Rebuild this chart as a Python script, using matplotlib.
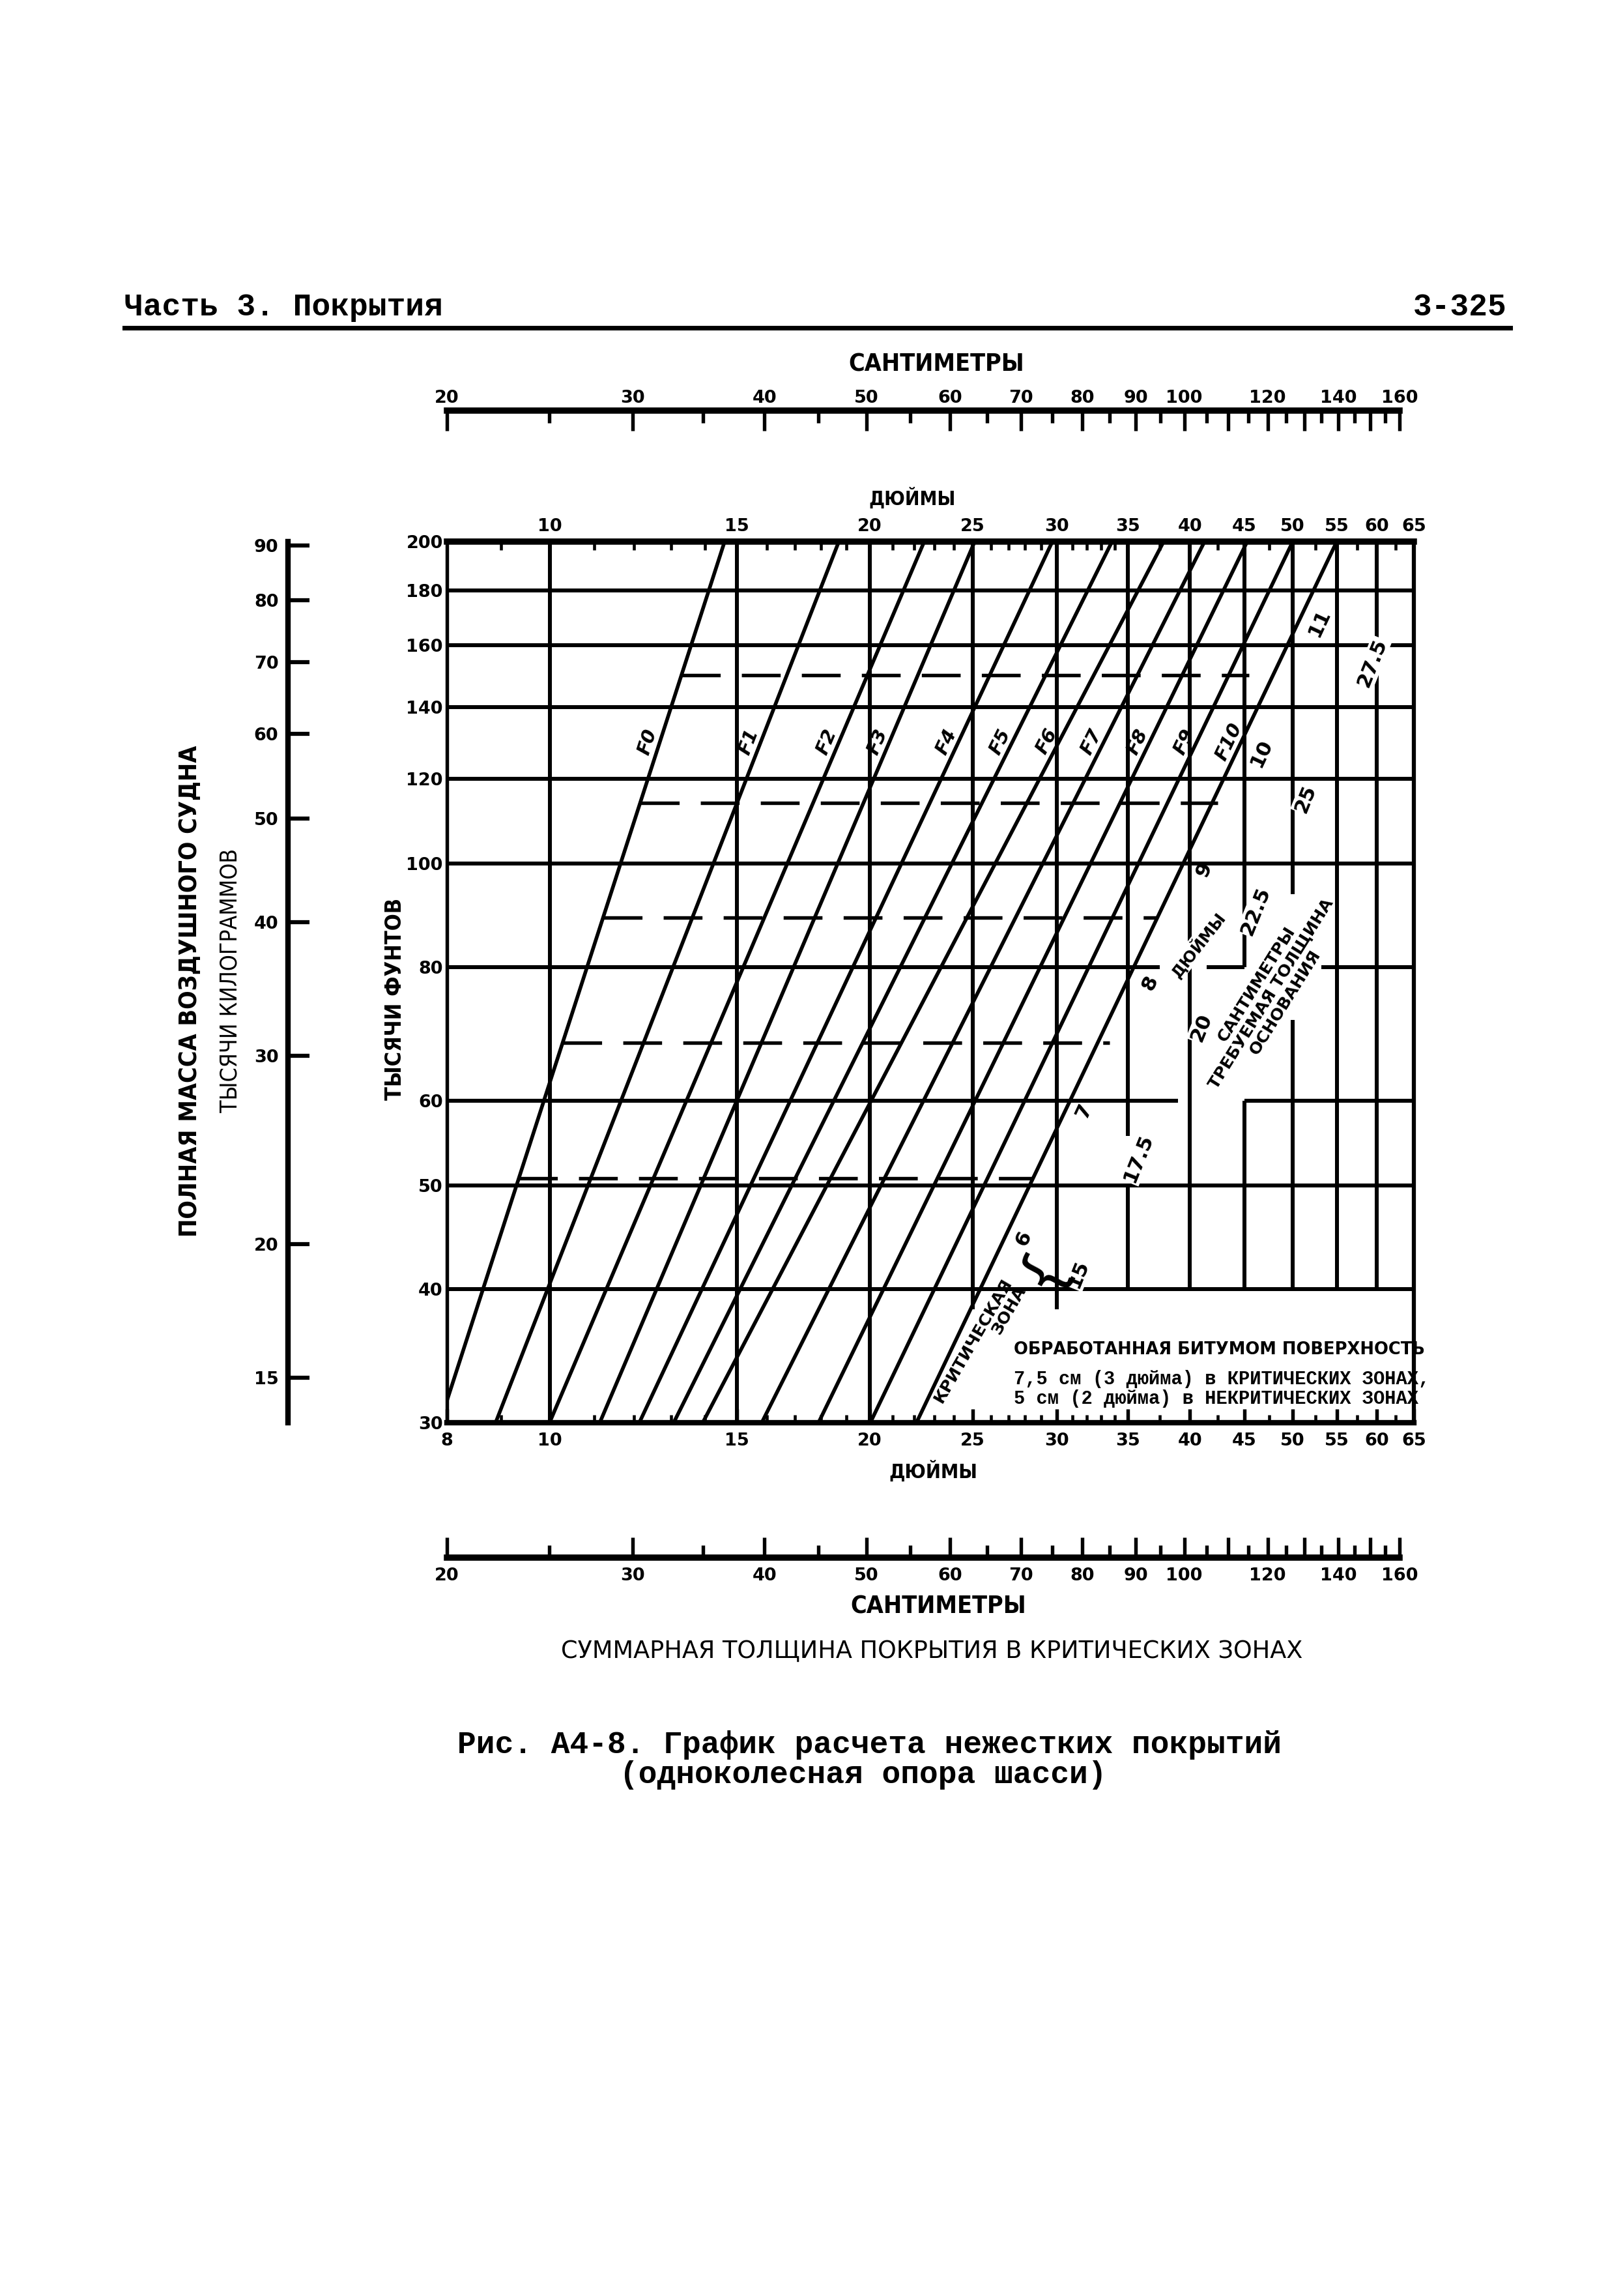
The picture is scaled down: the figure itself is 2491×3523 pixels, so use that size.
import numpy as np
import matplotlib
matplotlib.use("Agg")
import matplotlib.pyplot as plt
from matplotlib.lines import Line2D
from matplotlib.ticker import FixedLocator, NullFormatter, NullLocator

plt.rcParams['font.family'] = ['DejaVu Sans']
plt.rcParams['font.weight'] = 'bold'

W, H, DPI = 2491, 3523, 300

# --- scales -----------------------------------------------------------------
lb_ticks = [30, 40, 50, 60, 80, 100, 120, 140, 160, 180, 200]   # thousand lb
kg_ticks = [15, 20, 30, 40, 50, 60, 70, 80, 90]                  # thousand kg
in_top = [10, 15, 20, 25, 30, 35, 40, 45, 50, 55, 60, 65]
in_bottom = [8, 10, 15, 20, 25, 30, 35, 40, 45, 50, 55, 60, 65]
in_minor = [9, 11, 12, 13, 14, 16, 17, 18, 19, 21, 22, 23, 24, 26, 27, 28, 29,
            31, 32, 33, 34, 37.5, 42.5, 47.5, 52.5, 57.5, 62.5]
cm_major = [20, 30, 40, 50, 60, 70, 80, 90, 100, 110, 120, 130, 140, 150, 160]
cm_major_labels = ['20', '30', '40', '50', '60', '70', '80', '90', '100', '',
                   '120', '', '140', '', '160']
cm_minor = [25, 35, 45, 55, 65, 75, 85, 95, 105, 115, 125, 135, 145, 155]

# --- design lines: total thickness (in) where each crosses 200 and 40 klb ---
f_names = ['F0', 'F1', 'F2', 'F3', 'F4', 'F5', 'F6', 'F7', 'F8', 'F9', 'F10']
thick_at_200 = [14.6, 18.7, 22.5, 25.1, 29.7, 33.8, 37.8, 41.3, 45.3, 50.0, 55.0]
thick_at_40 = [8.65, 9.95, 11.3, 12.6, 13.9, 15.1, 16.2, 18.3, 20.6, 23.0, 25.4]

# dashed intermediate weights (klb) and the thickness where each stops
dash_weights = [150, 114, 89, 68, 50.8]
dash_stop = [45.5, 42.5, 37.2, 33.6, 28.5]

# grid, with the broken pieces in the lower right
grid_weights = [40, 50, 60, 80, 100, 120, 140, 160, 180]
grid_thick = [10, 15, 20, 25, 30, 35, 40, 45, 50, 55, 60]
weight_pieces = {60: [(8, 39.0), (45, 65)],
                 80: [(8, 37.5), (41.5, 45), (53.2, 65)]}
thick_pieces = {25: [(38.3, 200)], 30: [(38.3, 200)],
                35: [(40, 50), (55.6, 200)], 40: [(40, 200)],
                45: [(40, 60), (80, 200)], 50: [(40, 71.4), (93.6, 200)],
                55: [(40, 200)], 60: [(40, 200)]}

# base thickness labels
base_in = ['6', '7', '8', '9', '10', '11']
base_cm = ['15', '17.5', '20', '22.5', '25', '27.5']
base_in_pos = [(27.9, 44.6), (31.8, 58.7), (36.7, 77.3), (41.3, 98.6),
               (46.7, 126.8), (53.0, 167.8)]
base_cm_pos = [(31.4, 41.3), (35.8, 53.0), (41.0, 70.2), (46.1, 90.3),
               (51.4, 115), (59.4, 154)]


def fx(px):
    return px / W


def fy(py):
    return 1 - py / H


fig = plt.figure(figsize=(W / DPI, H / DPI), dpi=DPI)
fig.patch.set_facecolor('white')

L, R, T, B = 686, 2170, 831, 2183
ax = fig.add_axes([fx(L), fy(B), (R - L) / W, (B - T) / H])
ax.set_xscale('log')
ax.set_yscale('log')
ax.set_xlim(8, 65)
ax.set_ylim(30, 200)

LW = 1.45
for y in grid_weights:
    for x0, x1 in weight_pieces.get(y, [(8, 65)]):
        ax.hlines(y, x0, x1, color='k', lw=LW)
for x in grid_thick:
    for y0, y1 in thick_pieces.get(x, [(30, 200)]):
        ax.vlines(x, y0, y1, color='k', lw=LW)

for t200, t40 in zip(thick_at_200, thick_at_40):
    ax.axline((t40, 40), (t200, 200), color='k', lw=1.35)


def on_line(i, w):
    # thickness on design line i at weight w (straight on log-log paper)
    a, b = np.log(thick_at_40[i]), np.log(thick_at_200[i])
    f = (np.log(w) - np.log(40)) / (np.log(200) - np.log(40))
    return np.exp(a + f * (b - a))


for w, stop in zip(dash_weights, dash_stop):
    ax.hlines(w, on_line(0, w), stop, color='k', lw=1.3,
              linestyles=(0, (11, 6)))

# ticks and frame
ax.set_xticks(in_bottom)
ax.set_xticklabels([str(v) for v in in_bottom])
ax.xaxis.set_minor_locator(FixedLocator(in_minor))
ax.xaxis.set_minor_formatter(NullFormatter())
ax.tick_params(axis='x', which='major', direction='in', length=5, width=1.3,
               top=False, labelsize=6.5, pad=3.5)
ax.tick_params(axis='x', which='minor', direction='in', length=3, width=1.1,
               top=True, bottom=True)
ax.set_yticks(lb_ticks)
ax.set_yticklabels([str(v) for v in lb_ticks])
ax.yaxis.set_minor_locator(NullLocator())
ax.tick_params(axis='y', length=0, pad=1.5, labelsize=6.5)
ax.spines['top'].set_linewidth(2.3)
ax.spines['bottom'].set_linewidth(2.0)
ax.spines['left'].set_linewidth(1.3)
ax.spines['right'].set_linewidth(1.5)

sec = ax.secondary_xaxis('top')
sec.set_xticks(in_top)
sec.set_xticklabels([str(v) for v in in_top])
sec.xaxis.set_minor_locator(NullLocator())
sec.tick_params(length=0, pad=2.5, labelsize=6.5)
sec.spines['top'].set_visible(False)

# F labels along their lines
for i, name in enumerate(f_names):
    p0 = ax.transData.transform((on_line(i, 60), 60))
    p1 = ax.transData.transform((on_line(i, 180), 180))
    ang = np.degrees(np.arctan2(p1[1] - p0[1], p1[0] - p0[0]))
    ax.text(on_line(i, 130) / 1.027, 130, name, rotation=ang, ha='center',
            va='center', fontsize=7, fontstyle='italic')

box = dict(facecolor='white', edgecolor='none', pad=0.4)
for s, (x, y) in zip(base_in, base_in_pos):
    ax.text(x, y, s, rotation=65, ha='center', va='center', fontsize=7.5)
for s, (x, y) in zip(base_cm, base_cm_pos):
    ax.text(x, y, s, rotation=68, ha='center', va='center', fontsize=7.5,
            bbox=box)

ax.text(40.7, 84.0, 'ДЮЙМЫ', rotation=52, ha='center', va='center',
        fontsize=5.8, bbox=box)
ax.text(47.7, 75.6, 'САНТИМЕТРЫ\nТРЕБУЕМАЯ ТОЛЩИНА\nОСНОВАНИЯ', rotation=58,
        ha='center', va='center', fontsize=6.1, multialignment='center',
        linespacing=1.1)
ax.text(25.4, 35.5, 'КРИТИЧЕСКАЯ\nЗОНА', rotation=60, ha='center',
        va='center', fontsize=6.1, multialignment='right', linespacing=1.0)
ax.text(28.45, 40.8, '}', rotation=-118, ha='center', va='center',
        fontsize=22, fontweight='normal')

# note under the 40 klb line
fig.text(fx(1556), fy(2071), 'ОБРАБОТАННАЯ БИТУМОМ ПОВЕРХНОСТЬ', ha='left',
         va='center', fontsize=6.2)
fig.text(fx(1556), fy(2116), '7,5 см (3 дюйма) в КРИТИЧЕСКИХ ЗОНАХ,',
         family='Liberation Mono', ha='left', va='center', fontsize=6.9)
fig.text(fx(1556), fy(2146), '5 см (2 дюйма) в НЕКРИТИЧЕСКИХ ЗОНАХ',
         family='Liberation Mono', ha='left', va='center', fontsize=6.9)

# kilogram scale on the left
kax = fig.add_axes([fx(442), fy(B), 0.03, (B - T) / H])
kax.set_yscale('log')
kax.set_ylim(30, 200)
kax.set_xlim(0, 1)
kax.patch.set_visible(False)
for s in ['top', 'right', 'bottom']:
    kax.spines[s].set_visible(False)
kax.spines['left'].set_linewidth(2.0)
kax.set_xticks([])
kax.set_yticks([k * 2.20462 for k in kg_ticks])
kax.set_yticklabels([str(k) for k in kg_ticks])
kax.yaxis.set_minor_locator(NullLocator())
kax.tick_params(axis='y', direction='in', length=8, width=1.5, pad=3.5,
                labelsize=6.5)


def cm_axis(py_line, where):
    h = 0.012
    bottom = fy(py_line) - h if where == 'top' else fy(py_line)
    cax = fig.add_axes([fx(L), bottom, (R - L) / W, h])
    cax.set_xscale('log')
    cax.set_xlim(8 * 2.54, 65 * 2.54)
    cax.patch.set_visible(False)
    for s in cax.spines.values():
        s.set_visible(False)
    sp = cax.spines[where]
    sp.set_visible(True)
    sp.set_bounds(20, 160)
    sp.set_linewidth(2.3)
    cax.set_yticks([])
    cax.set_xticks(cm_major)
    cax.set_xticklabels(cm_major_labels)
    cax.xaxis.set_minor_locator(FixedLocator(cm_minor))
    cax.xaxis.set_minor_formatter(NullFormatter())
    top = where == 'top'
    cax.tick_params(axis='x', which='both', top=top, bottom=not top,
                    labeltop=top, labelbottom=not top, direction='in')
    cax.tick_params(axis='x', which='major', length=7.5, width=1.3,
                    labelsize=6.5, pad=1.5 if top else 3.5)
    cax.tick_params(axis='x', which='minor', length=4.5, width=1.3)
    return cax


cm_axis(630, 'top')
cm_axis(2390, 'bottom')

# titles and captions (narrow, heavy lettering as in the print)
narrow = dict(fontstretch='condensed')
fig.text(fx(1437), fy(559), 'САНТИМЕТРЫ', ha='center', va='center',
         fontsize=9, **narrow)
fig.text(fx(1400), fy(764), 'ДЮЙМЫ', ha='center', va='center', fontsize=7.2,
         **narrow)
fig.text(fx(1432), fy(2257), 'ДЮЙМЫ', ha='center', va='center', fontsize=7.4,
         **narrow)
fig.text(fx(1440), fy(2466), 'САНТИМЕТРЫ', ha='center', va='center',
         fontsize=9, **narrow)
fig.text(fx(1430), fy(2533), 'СУММАРНАЯ ТОЛЩИНА ПОКРЫТИЯ В КРИТИЧЕСКИХ ЗОНАХ',
         ha='center', va='center', fontsize=8.8, fontweight='normal')
fig.text(fx(292), fy(1521), 'ПОЛНАЯ МАССА ВОЗДУШНОГО СУДНА', rotation=90,
         ha='center', va='center', fontsize=9, **narrow)
fig.text(fx(353), fy(1504), 'ТЫСЯЧИ КИЛОГРАММОВ', rotation=90, ha='center',
         va='center', fontsize=8.5, fontweight='normal', **narrow)
fig.text(fx(606), fy(1533), 'ТЫСЯЧИ ФУНТОВ', rotation=90, ha='center',
         va='center', fontsize=8.2, **narrow)

fig.text(fx(191), fy(472), 'Часть 3. Покрытия', family='Liberation Mono',
         ha='left', va='center', fontsize=11.5)
fig.text(fx(2313), fy(472), '3-325', family='Liberation Mono', ha='right',
         va='center', fontsize=11.5)
fig.add_artist(Line2D([fx(191), fx(2318)], [fy(503), fy(503)], color='k',
                      lw=1.7))
fig.text(fx(1334), fy(2677), 'Рис. А4-8. График расчета нежестких покрытий',
         family='Liberation Mono', ha='center', va='center', fontsize=11.5)
fig.text(fx(1325), fy(2724), '(одноколесная опора шасси)',
         family='Liberation Mono', ha='center', va='center', fontsize=11.5)

fig.savefig('out.png', dpi=DPI, facecolor='white')
